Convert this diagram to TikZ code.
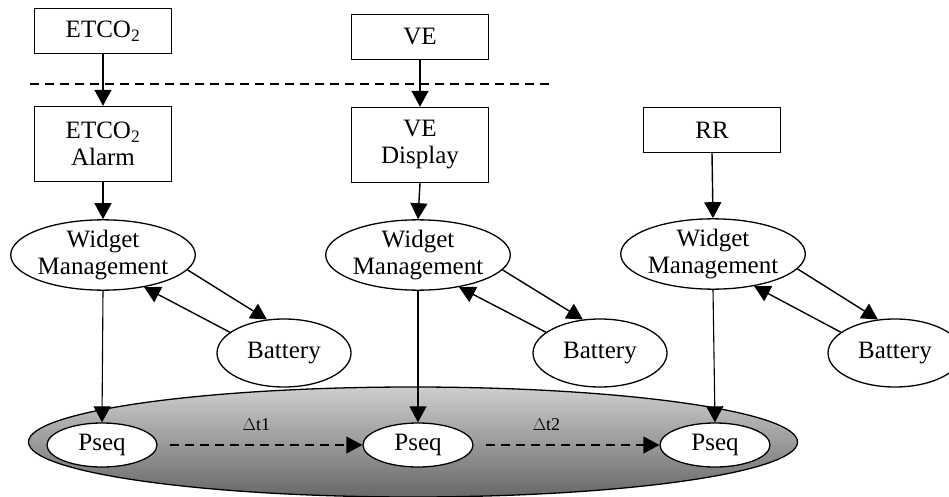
\documentclass[tikz,border=0pt]{standalone}
\usepackage{fontspec}
\setmainfont{Liberation Serif}
\usetikzlibrary{shapes.geometric,arrows.meta}
\definecolor{shtop}{RGB}{206,206,208}
\definecolor{shbot}{RGB}{104,104,106}
\tikzset{
  every node/.style={font=\fontsize{25}{27}\selectfont, align=center, inner sep=0pt},
  boxnode/.style={draw, line width=1.4pt, minimum width=137pt},
  ovalnode/.style={draw, ellipse, line width=1.3pt, fill=white},
  conn/.style={line width=1.4pt, -{Triangle[length=16pt,width=17pt]}},
  thinconn/.style={line width=1.1pt, -{Triangle[length=16pt,width=17pt]}},
  dashconn/.style={line width=1.4pt, dash pattern=on 9pt off 6pt, -{Triangle[length=16pt,width=17pt]}},
  dtlabel/.style={font=\fontsize{18}{20}\selectfont}
}
\begin{document}
\begin{tikzpicture}[x=1pt,y=-1pt]
\useasboundingbox (0,0) rectangle (949,497);
\clip (0,0) rectangle (949,497);

% big shaded ellipse
\node[draw, ellipse, line width=1.3pt, top color=shtop, bottom color=shbot,
      minimum width=769pt, minimum height=110pt] (seq) at (413,442) {};

% top boxes
\node[boxnode, minimum height=45pt] (etco) at (103,31) {ETCO\textsubscript{2}};
\node[boxnode, minimum height=45pt] (ve) at (420,37) {VE};
\node[boxnode, minimum height=45pt] (rr) at (712,130) {RR};

% second level boxes
\node[boxnode, minimum height=75pt] (alarm) at (103,144) {ETCO\textsubscript{2}\\Alarm};
\node[boxnode, minimum height=75pt] (disp) at (420,145) {VE\\Display};

% dashed separator
\coordinate (dl) at (30,84);
\coordinate (dr) at (550,84);
\draw[line width=1.3pt, dash pattern=on 9pt off 6pt] (dl) -- (dr);

% widget management
\node[ovalnode, minimum width=180pt, minimum height=66pt] (wm1) at (103,255) {Widget\\Management};
\node[ovalnode, minimum width=180pt, minimum height=66pt] (wm2) at (418,255) {Widget\\Management};
\node[ovalnode, minimum width=180pt, minimum height=66pt] (wm3) at (713,254) {Widget\\Management};

% batteries
\node[ovalnode, minimum width=134pt, minimum height=68pt] (b1) at (284,353) {Battery};
\node[ovalnode, minimum width=134pt, minimum height=68pt] (b2) at (600,353) {Battery};
\node[ovalnode, minimum width=134pt, minimum height=68pt] (b3) at (895,353) {Battery};

% pseq
\node[ovalnode, minimum width=110pt, minimum height=44pt] (p1) at (102,445) {Pseq};
\node[ovalnode, minimum width=110pt, minimum height=44pt] (p2) at (418,445) {Pseq};
\node[ovalnode, minimum width=110pt, minimum height=44pt] (p3) at (715,445) {Pseq};

% vertical arrows
\draw[conn] (etco.south) -- (alarm.north);
\draw[conn] (ve.south) -- (disp.north);
\draw[conn] (alarm.south) -- (wm1.north);
\draw[conn] (disp.south) -- (wm2.north);
\draw[conn] (rr.south) -- (wm3.north);
\draw[thinconn] (wm1.south) -- (p1.north);
\draw[thinconn] (wm2.south) -- (p2.north);
\draw[thinconn] (wm3.south) -- (p3.north);

% battery arrows
\draw[conn] (wm1.-10) -- (b1.117);
\draw[conn] (b1.159) -- (wm1.-38);
\draw[conn] (wm2.-10) -- (b2.117);
\draw[conn] (b2.159) -- (wm2.-38);
\draw[conn] (wm3.-10) -- (b3.117);
\draw[conn] (b3.159) -- (wm3.-38);

% dashed sequence arrows
\draw[dashconn] (p1.east) ++(12,0) coordinate (s1) (s1) -- node[dtlabel, pos=0.45, above=14pt] {$\Delta$t1} (p2.west);
\draw[dashconn] (p2.east) ++(12,0) coordinate (s2) (s2) -- node[dtlabel, pos=0.35, above=14pt] {$\Delta$t2} (p3.west);
\end{tikzpicture}
\end{document}
